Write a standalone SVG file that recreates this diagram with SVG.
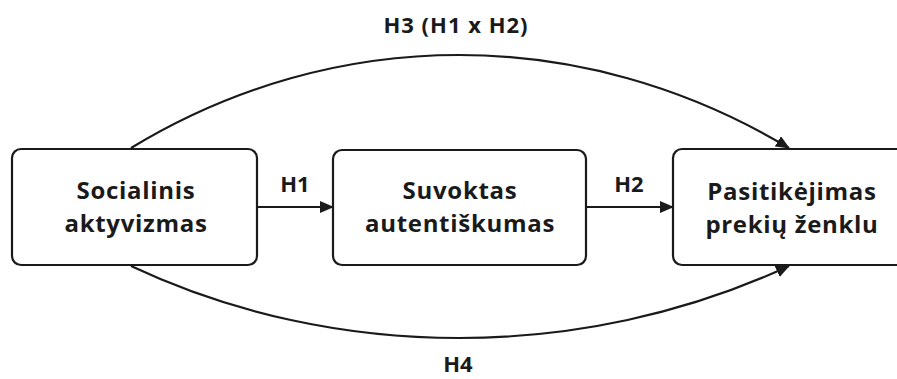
<svg xmlns="http://www.w3.org/2000/svg" width="897" height="379" viewBox="0 0 897 379">
<defs>
<style>
.box{fill:#fff;stroke:#1a1a1a;stroke-width:2.2}
.t{font-family:"Open Sans","Noto Sans","DejaVu Sans",sans-serif;font-weight:700;font-size:24px;letter-spacing:0.7px;fill:#1a1a1a;text-anchor:middle}
.lbl{font-family:"Open Sans","Noto Sans","DejaVu Sans",sans-serif;font-weight:700;font-size:22px;fill:#1a1a1a;text-anchor:middle}
.c{fill:none;stroke:#1a1a1a;stroke-width:2.2}
</style>
<marker id="ah" markerUnits="userSpaceOnUse" markerWidth="14" markerHeight="12" refX="13" refY="6" orient="auto">
<path d="M0,0 L14,6 L0,12 z" fill="#1a1a1a"/>
</marker>
</defs>
<rect width="897" height="379" fill="#fff"/>
<g id="connectors">
<path class="c" d="M257,207 L333,207" marker-end="url(#ah)"/>
<path class="c" d="M586,207 L673,207" marker-end="url(#ah)"/>
<path class="c" d="M131,148 C335,24 582,24 789,148" marker-end="url(#ah)"/>
<path class="c" d="M131,266 C335,362 582,362 789,266" marker-end="url(#ah)"/>
<text class="lbl" x="295" y="192">H1</text>
<text class="lbl" x="629" y="192">H2</text>
<text class="lbl" x="456" y="33" font-size="23" letter-spacing="1">H3 (H1 x H2)</text>
<text class="lbl" x="458" y="372" font-size="22">H4</text>
</g>
<g id="node-socialinis">
<rect class="box" x="12" y="149" width="245" height="116" rx="9"/>
<text class="t"><tspan x="136" y="199">Socialinis</tspan><tspan x="136" y="232">aktyvizmas</tspan></text>
</g>
<g id="node-suvoktas">
<rect class="box" x="333" y="150" width="253" height="115" rx="9"/>
<text class="t"><tspan x="460" y="199">Suvoktas</tspan><tspan x="460" y="232">autentiškumas</tspan></text>
</g>
<g id="node-pasitikejimas">
<rect class="box" x="673" y="149" width="240" height="116" rx="9"/>
<text class="t"><tspan x="792" y="200">Pasitikėjimas</tspan><tspan x="792" y="233">prekių ženklu</tspan></text>
</g>
</svg>
